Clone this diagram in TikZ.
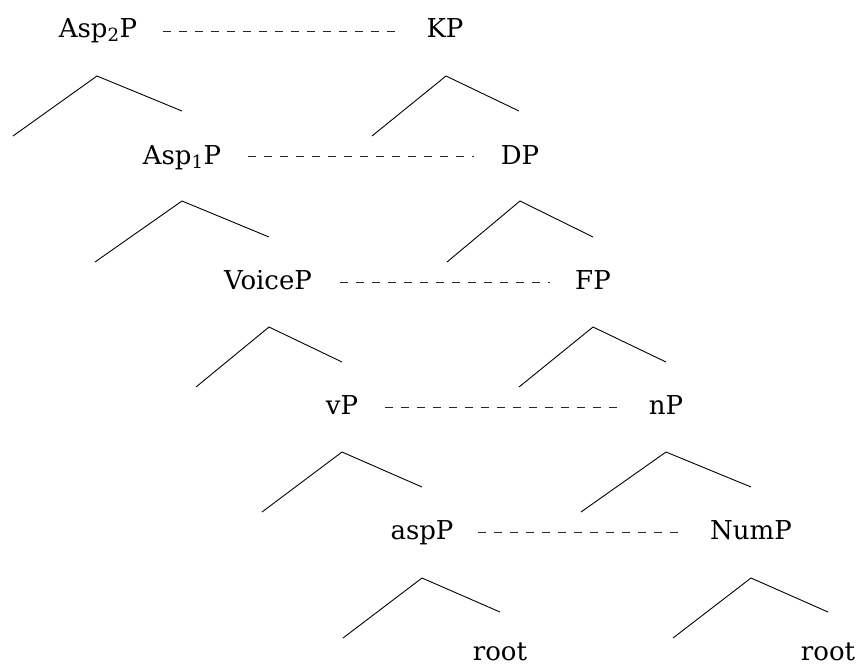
\documentclass[tikz,border=0pt]{standalone}
\usepackage{fontspec}
\setmainfont{DejaVu Serif}
\usetikzlibrary{calc}
\tikzset{
  lbl/.style={anchor=base, inner sep=0pt, font=\fontsize{26}{30}\selectfont},
  branch/.style={draw=black, line width=0.9pt},
  dashline/.style={draw=black!85, line width=0.8pt, dash pattern=on 8pt off 8pt}
}
\begin{document}
\begin{tikzpicture}[x=1pt, y=-1pt]
\useasboundingbox (0,0) rectangle (858,665);
% left tree labels
\node[lbl] (asp2) at (98,37) {Asp\textsubscript{2}P};
\node[lbl] (asp1) at (182,164) {Asp\textsubscript{1}P};
\node[lbl] (voice) at (268,289) {VoiceP};
\node[lbl] (vp) at (342,414) {vP};
\node[lbl] (aspp) at (422,539) {aspP};
\node[lbl] (rootL) at (500,660) {root};
% right tree labels
\node[lbl] (kp) at (445,37) {KP};
\node[lbl] (dp) at (520,164) {DP};
\node[lbl] (fp) at (593,289) {FP};
\node[lbl] (np) at (666,414) {nP};
\node[lbl] (nump) at (751,539) {NumP};
\node[lbl] (rootR) at (828,660) {root};
% empty left daughters
\coordinate (eA) at (13,136);
\coordinate (eB) at (95,262);
\coordinate (eC) at (196,387);
\coordinate (eD) at (262,512);
\coordinate (eE) at (343,638);
\coordinate (fA) at (372,136);
\coordinate (fB) at (447,262);
\coordinate (fC) at (519,387);
\coordinate (fD) at (581,512);
\coordinate (fE) at (673,638);
% branches
\draw[branch] (eA) -- ($(asp2.base)+(-1,39)$) -- ($(asp1.base)+(0,-53)$);
\draw[branch] (eB) -- ($(asp1.base)+(0,37)$) -- ($(voice.base)+(1,-52)$);
\draw[branch] (eC) -- ($(voice.base)+(1,38)$) -- ($(vp.base)+(0,-52)$);
\draw[branch] (eD) -- ($(vp.base)+(0,38)$) -- ($(aspp.base)+(0,-52)$);
\draw[branch] (eE) -- ($(aspp.base)+(0,39)$) -- ($(rootL.base)+(0,-48)$);
\draw[branch] (fA) -- ($(kp.base)+(1,39)$) -- ($(dp.base)+(-1,-53)$);
\draw[branch] (fB) -- ($(dp.base)+(0,37)$) -- ($(fp.base)+(0,-52)$);
\draw[branch] (fC) -- ($(fp.base)+(0,38)$) -- ($(np.base)+(0,-52)$);
\draw[branch] (fD) -- ($(np.base)+(0,38)$) -- ($(nump.base)+(0,-52)$);
\draw[branch] (fE) -- ($(nump.base)+(0,39)$) -- ($(rootR.base)+(0,-48)$);
% dashed links
\draw[dashline] ($(asp2.base)+(65,-6)$) -- ($(kp.base)+(-50,-6)$);
\draw[dashline] ($(asp1.base)+(66,-8)$) -- ($(dp.base)+(-46,-8)$);
\draw[dashline] ($(voice.base)+(72,-7)$) -- ($(fp.base)+(-43,-7)$);
\draw[dashline] ($(vp.base)+(43,-7)$) -- ($(np.base)+(-49,-7)$);
\draw[dashline] ($(aspp.base)+(56,-7)$) -- ($(nump.base)+(-73,-7)$);
\end{tikzpicture}
\end{document}
